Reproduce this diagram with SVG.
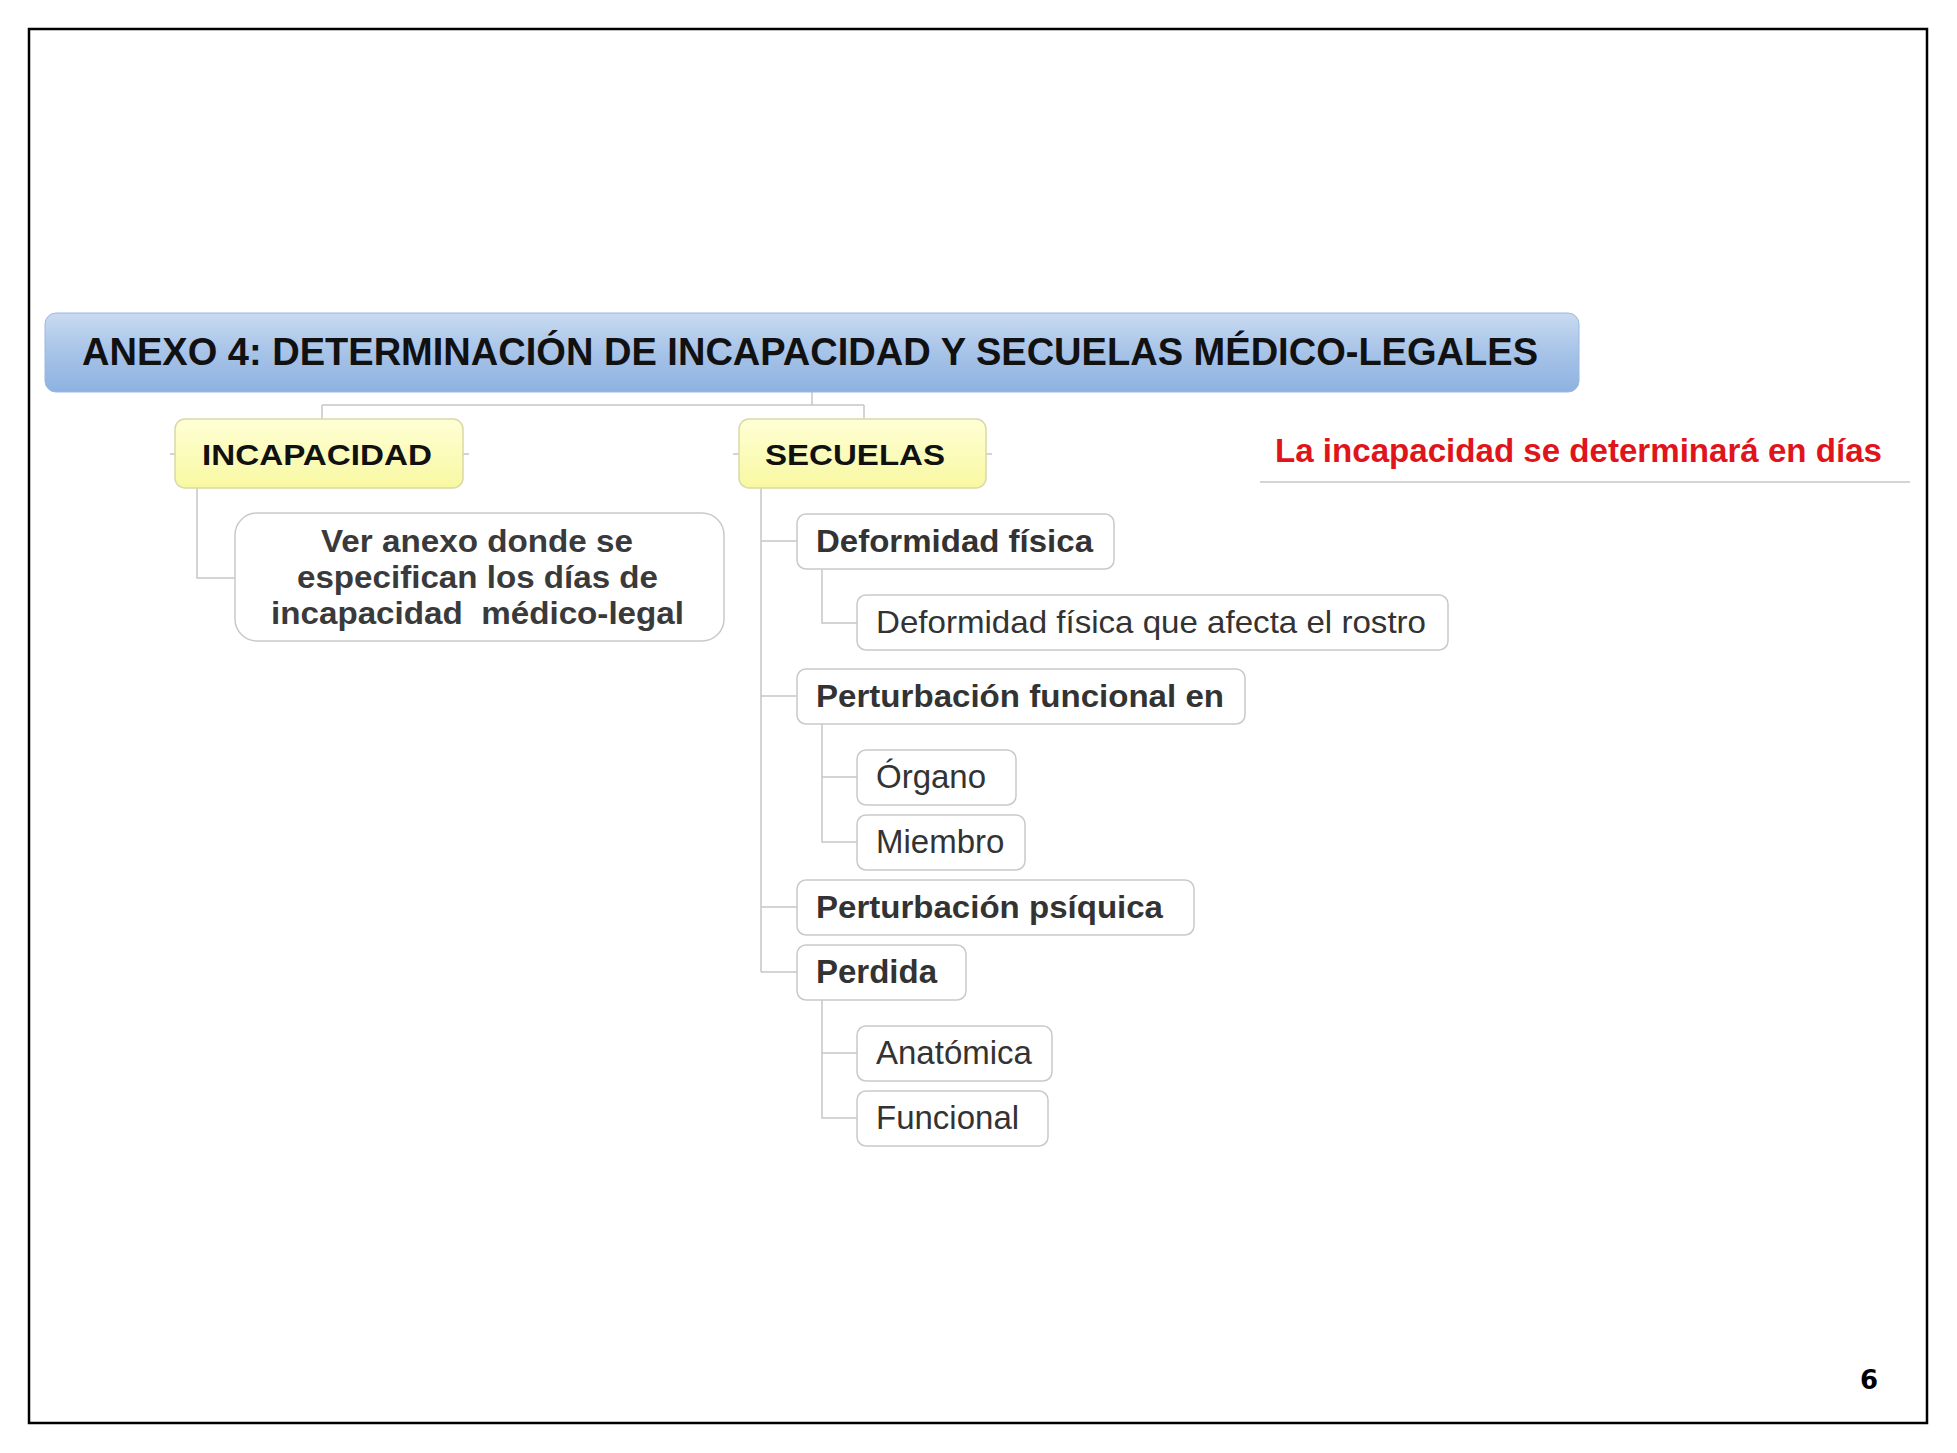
<svg xmlns="http://www.w3.org/2000/svg" width="1957" height="1453" viewBox="0 0 1957 1453">
<defs>
<linearGradient id="gTitle" x1="0" y1="0" x2="0" y2="1">
<stop offset="0" stop-color="#c9dbf1"/>
<stop offset="0.5" stop-color="#a7c3e8"/>
<stop offset="1" stop-color="#8db2e0"/>
</linearGradient>
<linearGradient id="gYel" x1="0" y1="0" x2="0" y2="1">
<stop offset="0" stop-color="#ffffd6"/>
<stop offset="1" stop-color="#f8f8a2"/>
</linearGradient>
</defs>
<style>
.box{fill:#ffffff;stroke:#c9c9c9;stroke-width:1.5}
.yel{fill:url(#gYel);stroke:#d9d9a8;stroke-width:1.5}
.con{fill:none;stroke:#c6c6c6;stroke-width:1.5}
.b{font-family:"Liberation Sans",Arial,sans-serif;font-weight:bold;fill:#333333}
.r{font-family:"Liberation Sans",Arial,sans-serif;fill:#333333}
</style>
<rect x="0" y="0" width="1957" height="1453" fill="#ffffff"/>
<rect x="29" y="29" width="1898" height="1394" fill="none" stroke="#000000" stroke-width="2.5"/>

<g id="connectors">
<path class="con" d="M812,392 V405 M322,405 H864 M322,405 V419 M864,405 V419"/>
<path class="con" d="M197,488 V578 H235"/>
<path class="con" d="M170,454 H175 M463,454 H469 M733,454 H739 M986,454 H992"/>
<path class="con" d="M761,488 V972 M761,541 H797 M761,696 H797 M761,907 H797 M761,972 H797"/>
<path class="con" d="M822,569 V623 H857"/>
<path class="con" d="M822,724 V842 H857 M822,777 H857"/>
<path class="con" d="M822,1000 V1118 H857 M822,1053 H857"/>
<path class="con" d="M1260,482 H1910"/>
</g>

<g id="title">
<rect x="45" y="313" width="1534" height="79" rx="11" fill="url(#gTitle)" stroke="#9ab8e0" stroke-width="1"/>
<text x="82" y="365" class="b" font-size="38" style="fill:#111111" textLength="1456" lengthAdjust="spacingAndGlyphs">ANEXO 4: DETERMINACIÓN DE INCAPACIDAD Y SECUELAS MÉDICO-LEGALES</text>
</g>

<g id="incapacidad">
<rect class="yel" x="175" y="419" width="288" height="69" rx="10"/>
<text x="202" y="465" class="b" font-size="30" style="fill:#111111" textLength="230" lengthAdjust="spacingAndGlyphs">INCAPACIDAD</text>
</g>

<g id="secuelas">
<rect class="yel" x="739" y="419" width="247" height="69" rx="10"/>
<text x="765" y="465" class="b" font-size="30" style="fill:#111111" textLength="180" lengthAdjust="spacingAndGlyphs">SECUELAS</text>
</g>

<g id="nota">
<text x="1275" y="462" font-family="'Liberation Sans',Arial,sans-serif" font-weight="bold" font-size="33" fill="#e0141b" textLength="607" lengthAdjust="spacingAndGlyphs">La incapacidad se determinará en días</text>
</g>

<g id="ver-anexo">
<rect class="box" x="235" y="513" width="489" height="128" rx="22"/>
<text class="b" font-size="32" style="fill:#3a3a3a">
<tspan x="321" y="552" textLength="312" lengthAdjust="spacingAndGlyphs">Ver anexo donde se</tspan>
<tspan x="297" y="588" textLength="361" lengthAdjust="spacingAndGlyphs">especifican los días de</tspan>
<tspan x="271" y="624" xml:space="preserve" textLength="413" lengthAdjust="spacingAndGlyphs">incapacidad  médico-legal</tspan>
</text>
</g>

<g id="deformidad">
<rect class="box" x="797" y="514" width="317" height="55" rx="9"/>
<text x="816" y="552" class="b" font-size="32" textLength="277" lengthAdjust="spacingAndGlyphs">Deformidad física</text>
</g>

<g id="deformidad-rostro">
<rect class="box" x="857" y="595" width="591" height="55" rx="9"/>
<text x="876" y="633" class="r" font-size="32" textLength="550" lengthAdjust="spacingAndGlyphs">Deformidad física que afecta el rostro</text>
</g>

<g id="perturbacion-funcional">
<rect class="box" x="797" y="669" width="448" height="55" rx="9"/>
<text x="816" y="707" class="b" font-size="32" textLength="408" lengthAdjust="spacingAndGlyphs">Perturbación funcional en</text>
</g>

<g id="organo">
<rect class="box" x="857" y="750" width="159" height="55" rx="9"/>
<text x="876" y="788" class="r" font-size="33">Órgano</text>
</g>

<g id="miembro">
<rect class="box" x="857" y="815" width="168" height="55" rx="9"/>
<text x="876" y="853" class="r" font-size="33">Miembro</text>
</g>

<g id="perturbacion-psiquica">
<rect class="box" x="797" y="880" width="397" height="55" rx="9"/>
<text x="816" y="918" class="b" font-size="32" textLength="347" lengthAdjust="spacingAndGlyphs">Perturbación psíquica</text>
</g>

<g id="perdida">
<rect class="box" x="797" y="945" width="169" height="55" rx="9"/>
<text x="816" y="983" class="b" font-size="33">Perdida</text>
</g>

<g id="anatomica">
<rect class="box" x="857" y="1026" width="195" height="55" rx="9"/>
<text x="876" y="1064" class="r" font-size="33">Anatómica</text>
</g>

<g id="funcional">
<rect class="box" x="857" y="1091" width="191" height="55" rx="9"/>
<text x="876" y="1129" class="r" font-size="33">Funcional</text>
</g>

<text x="1860" y="1389" font-family="'DejaVu Sans',sans-serif" font-weight="bold" font-size="26" fill="#000000">6</text>
</svg>
